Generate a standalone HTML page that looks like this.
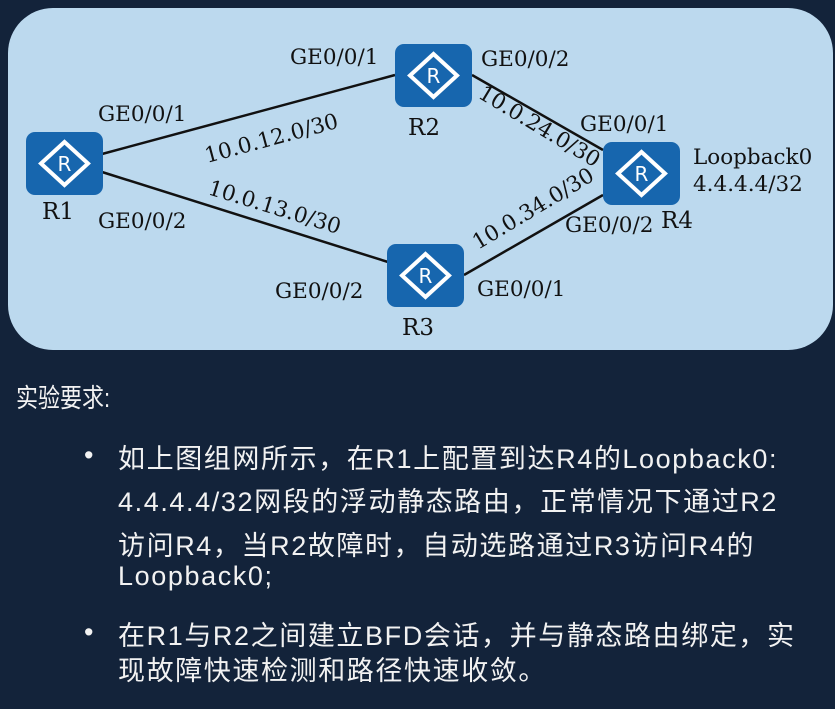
<!DOCTYPE html>
<html><head><meta charset="utf-8"><style>
html,body{margin:0;padding:0;background:#13233a;width:835px;height:709px;overflow:hidden}
.t{position:absolute;color:#f2f2f2;font-family:"Liberation Sans","Noto Sans CJK SC",sans-serif;font-size:27px;letter-spacing:1.6px;white-space:nowrap}
</style></head><body>
<svg width="835" height="360" style="position:absolute;left:0;top:0" font-family="DejaVu Serif, Liberation Serif, serif" font-size="21.5" fill="#111">
<defs>
<g id="r"><rect x="0" y="0" width="77" height="63" rx="9" fill="#1766ae"/>
<polygon points="38.5,10 62,31.5 38.5,53 15,31.5" fill="none" stroke="#fff" stroke-width="4"/>
<text x="38.5" y="39" font-family="DejaVu Sans, sans-serif" font-size="20" fill="#fff" text-anchor="middle">R</text></g>
</defs>
<rect x="8" y="8" width="825" height="342" rx="45" fill="#bcd9ee"/>
<g stroke="#111" stroke-width="2.5">
<line x1="102" y1="154" x2="395" y2="75"/>
<line x1="102" y1="172" x2="388" y2="262"/>
<line x1="472" y1="75" x2="603" y2="150"/>
<line x1="464" y1="275" x2="603" y2="195"/>
</g>
<use href="#r" x="26" y="132"/>
<use href="#r" x="395" y="44"/>
<use href="#r" x="387" y="244"/>
<use href="#r" x="603" y="142"/>
<g font-size="23">
<text x="42" y="219">R1</text>
<text x="408" y="135">R2</text>
<text x="402" y="335">R3</text>
<text x="661" y="228">R4</text>
</g>
<text x="98" y="121">GE0/0/1</text>
<text x="98" y="228">GE0/0/2</text>
<text x="290" y="64">GE0/0/1</text>
<text x="481" y="66">GE0/0/2</text>
<text x="580" y="131">GE0/0/1</text>
<text x="565" y="232">GE0/0/2</text>
<text x="275" y="298">GE0/0/2</text>
<text x="477" y="296">GE0/0/1</text>
<text x="693" y="164">Loopback0</text>
<text x="693" y="191">4.4.4.4/32</text>
<text transform="translate(207,163) rotate(-15)">10.0.12.0/30</text>
<text transform="translate(207,194) rotate(17)">10.0.13.0/30</text>
<text transform="translate(477,97) rotate(31)">10.0.24.0/30</text>
<text transform="translate(478,250) rotate(-31)">10.0.34.0/30</text>
</svg>
<div class="t" style="left:16px;top:377px;font-size:22px;letter-spacing:0;transform:scaleY(1.2);transform-origin:0 0">实验要求:</div>
<div class="t" style="left:84px;top:440px">•</div>
<div class="t" style="left:118px;top:437px">如上图组网所示，在R1上配置到达R4的Loopback0:</div>
<div class="t" style="left:118px;top:480px">4.4.4.4/32网段的浮动静态路由，正常情况下通过R2</div>
<div class="t" style="left:118px;top:524px">访问R4，当R2故障时，自动选路通过R3访问R4的</div>
<div class="t" style="left:118px;top:561px">Loopback0;</div>
<div class="t" style="left:84px;top:617px">•</div>
<div class="t" style="left:118px;top:614px">在R1与R2之间建立BFD会话，并与静态路由绑定，实</div>
<div class="t" style="left:118px;top:649px">现故障快速检测和路径快速收敛。</div>
</body></html>
